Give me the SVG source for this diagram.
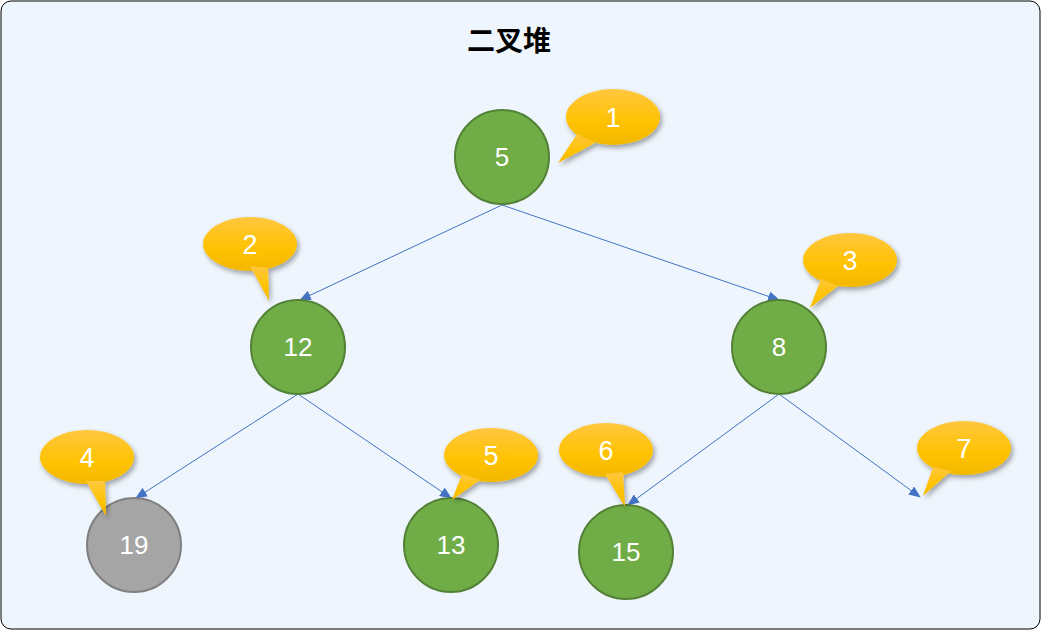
<svg xmlns="http://www.w3.org/2000/svg" width="1041" height="630" viewBox="0 0 1041 630">
<style>
.node{fill:#70AD47;stroke:#538135;stroke-width:2}
.gray{fill:#A5A5A5;stroke:#7F7F7F;stroke-width:2}
.lbl{font-family:"Liberation Sans","Open Sans",sans-serif;font-size:26px;fill:#FFFFFF;text-anchor:middle}
.clbl{font-family:"Liberation Sans","Open Sans",sans-serif;font-size:27px;fill:#FFFFFF;text-anchor:middle}
.edge{stroke:#4472C4;stroke-width:1;fill:none;marker-end:url(#arr)}
.call{fill:url(#gold)}
</style>
<defs>
<linearGradient id="gold" x1="0" y1="0" x2="0" y2="1">
<stop offset="0" stop-color="#FFC73F"/>
<stop offset="0.6" stop-color="#FFC200"/>
<stop offset="1" stop-color="#F2B800"/>
</linearGradient>
<filter id="sh" x="-30%" y="-30%" width="160%" height="160%">
<feDropShadow dx="2" dy="3" stdDeviation="2.5" flood-color="#000" flood-opacity="0.35"/>
</filter>
<marker id="arr" markerUnits="userSpaceOnUse" markerWidth="12" markerHeight="10" refX="11" refY="5" orient="auto">
<path d="M0,0 L12,5 L0,10 Z" fill="#4472C4"/>
</marker>
</defs>
<rect x="1" y="1" width="1039" height="628" rx="10" fill="#EEF5FC" stroke="#000" stroke-width="1"/>
<text x="509" y="51" font-family="'Noto Sans CJK SC',sans-serif" font-size="28" font-weight="bold" text-anchor="middle" fill="#000">二叉堆</text>
<g id="connectors">
<line class="edge" x1="502" y1="205" x2="300" y2="300"/>
<line class="edge" x1="502" y1="205" x2="779" y2="300"/>
<line class="edge" x1="298" y1="394" x2="136" y2="498"/>
<line class="edge" x1="298" y1="394" x2="451" y2="498"/>
<line class="edge" x1="779" y1="394" x2="628" y2="505"/>
<line class="edge" x1="779" y1="394" x2="920" y2="497"/>
</g>
<g id="n5"><circle class="node" cx="502" cy="157" r="47"/><text class="lbl" x="502" y="166">5</text></g>
<g id="n12"><circle class="node" cx="298" cy="347" r="47"/><text class="lbl" x="298" y="356">12</text></g>
<g id="n8"><circle class="node" cx="779" cy="347" r="47"/><text class="lbl" x="779" y="356">8</text></g>
<g id="n19"><circle class="gray" cx="134" cy="545" r="47"/><text class="lbl" x="134" y="554">19</text></g>
<g id="n13"><circle class="node" cx="451" cy="545" r="47"/><text class="lbl" x="451" y="554">13</text></g>
<g id="n15"><circle class="node" cx="626" cy="552" r="47"/><text class="lbl" x="626" y="561">15</text></g>
<g id="c1"><g filter="url(#sh)"><ellipse class="call" cx="613" cy="117" rx="47" ry="28"/><polygon class="call" points="577,134 595,143 558,163"/></g><text class="clbl" x="613" y="127">1</text></g>
<g id="c2"><g filter="url(#sh)"><ellipse class="call" cx="250" cy="244" rx="47" ry="27"/><polygon class="call" points="250,266 268,268 269,301"/></g><text class="clbl" x="250" y="254">2</text></g>
<g id="c3"><g filter="url(#sh)"><ellipse class="call" cx="850" cy="260" rx="47" ry="27"/><polygon class="call" points="821,279 838,286 810,308"/></g><text class="clbl" x="850" y="270">3</text></g>
<g id="c4"><g filter="url(#sh)"><ellipse class="call" cx="87" cy="457" rx="47" ry="27"/><polygon class="call" points="86,481 105,481 106,516"/></g><text class="clbl" x="87" y="467">4</text></g>
<g id="c5"><g filter="url(#sh)"><ellipse class="call" cx="491" cy="455" rx="47" ry="27"/><polygon class="call" points="462,474 480,480 452,500"/></g><text class="clbl" x="491" y="465">5</text></g>
<g id="c6"><g filter="url(#sh)"><ellipse class="call" cx="606" cy="450" rx="47" ry="27"/><polygon class="call" points="605,474 623,472 625,507"/></g><text class="clbl" x="606" y="460">6</text></g>
<g id="c7"><g filter="url(#sh)"><ellipse class="call" cx="964" cy="448" rx="47" ry="27"/><polygon class="call" points="933,467 951,471 923,496"/></g><text class="clbl" x="964" y="458">7</text></g>
</svg>
